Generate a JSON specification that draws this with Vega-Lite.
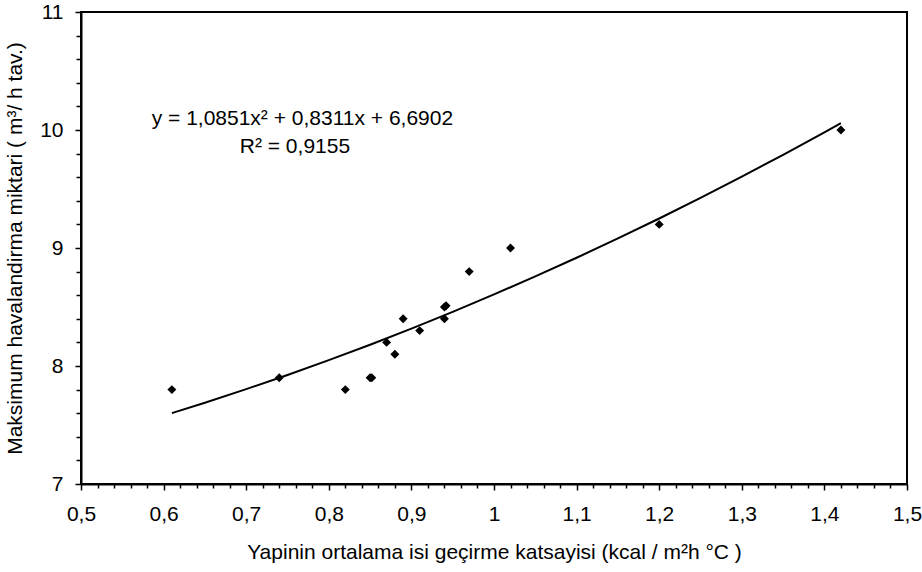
{
  "$schema": "https://vega.github.io/schema/vega-lite/v6.json",
  "autosize": {"type": "none"},
  "padding": {"left": 81, "top": 12, "right": 15, "bottom": 88},
  "width": 826,
  "height": 472,
  "background": "white",
  "config": {
    "font": "Liberation Sans",
    "view": {"stroke": "black", "strokeWidth": 2},
    "axis": {
      "grid": false,
      "domainColor": "black",
      "domainWidth": 2,
      "tickColor": "black",
      "tickWidth": 1.5,
      "labelColor": "black",
      "titleColor": "black",
      "labelFont": "Liberation Sans",
      "titleFont": "Liberation Sans",
      "labelFontSize": 21,
      "titleFontSize": 21,
      "titleFontWeight": "normal",
      "labelFlush": false,
      "labelOverlap": false
    },
    "axisX": {
      "labelPadding": 13,
      "labelBaseline": "top",
      "titleBaseline": "alphabetic",
      "titleY": 74
    },
    "axisY": {
      "labelPadding": 12,
      "titleBaseline": "alphabetic",
      "titleX": -60
    }
  },
  "datasets": {
    "points": [
      {"x": 0.61, "y": 7.8},
      {"x": 0.74, "y": 7.9},
      {"x": 0.82, "y": 7.8},
      {"x": 0.85, "y": 7.9},
      {"x": 0.852, "y": 7.9},
      {"x": 0.87, "y": 8.2},
      {"x": 0.88, "y": 8.1},
      {"x": 0.89, "y": 8.4},
      {"x": 0.91, "y": 8.3},
      {"x": 0.94, "y": 8.5},
      {"x": 0.942, "y": 8.51},
      {"x": 0.94, "y": 8.4},
      {"x": 0.97, "y": 8.8},
      {"x": 1.02, "y": 9.0},
      {"x": 1.2, "y": 9.2},
      {"x": 1.42, "y": 10.0}
    ],
    "trend": [
      {"x": 0.61, "y": 7.6009},
      {"x": 0.65, "y": 7.6889},
      {"x": 0.70, "y": 7.8037},
      {"x": 0.75, "y": 7.9239},
      {"x": 0.80, "y": 8.0495},
      {"x": 0.85, "y": 8.1806},
      {"x": 0.90, "y": 8.3171},
      {"x": 0.95, "y": 8.4591},
      {"x": 1.00, "y": 8.6064},
      {"x": 1.05, "y": 8.7592},
      {"x": 1.10, "y": 8.9174},
      {"x": 1.15, "y": 9.0810},
      {"x": 1.20, "y": 9.2501},
      {"x": 1.25, "y": 9.4246},
      {"x": 1.30, "y": 9.6045},
      {"x": 1.35, "y": 9.7898},
      {"x": 1.40, "y": 9.9805},
      {"x": 1.42, "y": 10.0584}
    ],
    "notes": [
      {"t1": "y = 1,0851x² + 0,8311x + 6,6902", "t2": "R² = 0,9155"}
    ]
  },
  "layer": [
    {
      "data": {"name": "trend"},
      "mark": {"type": "line", "color": "black", "strokeWidth": 2, "interpolate": "monotone"},
      "encoding": {
        "x": {
          "field": "x",
          "type": "quantitative",
          "title": "Yapinin ortalama isi geçirme katsayisi (kcal / m²h °C )",
          "scale": {"domain": [0.5, 1.5], "nice": false, "zero": false},
          "axis": {
            "values": [0.5, 0.52, 0.54, 0.56, 0.58, 0.6, 0.62, 0.64, 0.66, 0.68, 0.7, 0.72, 0.74, 0.76, 0.78, 0.8, 0.82, 0.84, 0.86, 0.88, 0.9, 0.92, 0.94, 0.96, 0.98, 1.0, 1.02, 1.04, 1.06, 1.08, 1.1, 1.12, 1.14, 1.16, 1.18, 1.2, 1.22, 1.24, 1.26, 1.28, 1.3, 1.32, 1.34, 1.36, 1.38, 1.4, 1.42, 1.44, 1.46, 1.48, 1.5],
            "labelExpr": "abs(datum.value*10 - round(datum.value*10)) < 0.001 ? replace(format(datum.value, '.1~f'), '.', ',') : ''",
            "tickSize": {"condition": {"test": "abs(datum.value*10 - round(datum.value*10)) < 0.001", "value": 6}, "value": 4}
          }
        },
        "y": {
          "field": "y",
          "type": "quantitative",
          "title": "Maksimum havalandirma miktari ( m³/ h tav.)",
          "scale": {"domain": [7, 11], "nice": false, "zero": false},
          "axis": {
            "values": [7, 7.2, 7.4, 7.6, 7.8, 8, 8.2, 8.4, 8.6, 8.8, 9, 9.2, 9.4, 9.6, 9.8, 10, 10.2, 10.4, 10.6, 10.8, 11],
            "labelExpr": "abs(datum.value - round(datum.value)) < 0.001 ? format(datum.value, 'd') : ''",
            "tickSize": {"condition": {"test": "abs(datum.value - round(datum.value)) < 0.001", "value": 6}, "value": 5}
          }
        }
      }
    },
    {
      "data": {"name": "points"},
      "mark": {"type": "point", "shape": "diamond", "filled": true, "color": "black", "opacity": 1, "size": 80},
      "encoding": {
        "x": {
          "field": "x",
          "type": "quantitative",
          "title": "Yapinin ortalama isi geçirme katsayisi (kcal / m²h °C )",
          "axis": {
            "values": [0.5, 0.52, 0.54, 0.56, 0.58, 0.6, 0.62, 0.64, 0.66, 0.68, 0.7, 0.72, 0.74, 0.76, 0.78, 0.8, 0.82, 0.84, 0.86, 0.88, 0.9, 0.92, 0.94, 0.96, 0.98, 1.0, 1.02, 1.04, 1.06, 1.08, 1.1, 1.12, 1.14, 1.16, 1.18, 1.2, 1.22, 1.24, 1.26, 1.28, 1.3, 1.32, 1.34, 1.36, 1.38, 1.4, 1.42, 1.44, 1.46, 1.48, 1.5],
            "labelExpr": "abs(datum.value*10 - round(datum.value*10)) < 0.001 ? replace(format(datum.value, '.1~f'), '.', ',') : ''",
            "tickSize": {"condition": {"test": "abs(datum.value*10 - round(datum.value*10)) < 0.001", "value": 6}, "value": 4}
          }
        },
        "y": {
          "field": "y",
          "type": "quantitative",
          "title": "Maksimum havalandirma miktari ( m³/ h tav.)",
          "axis": {
            "values": [7, 7.2, 7.4, 7.6, 7.8, 8, 8.2, 8.4, 8.6, 8.8, 9, 9.2, 9.4, 9.6, 9.8, 10, 10.2, 10.4, 10.6, 10.8, 11],
            "labelExpr": "abs(datum.value - round(datum.value)) < 0.001 ? format(datum.value, 'd') : ''",
            "tickSize": {"condition": {"test": "abs(datum.value - round(datum.value)) < 0.001", "value": 6}, "value": 5}
          }
        }
      }
    },
    {
      "data": {"name": "notes"},
      "mark": {"type": "text", "align": "left", "baseline": "alphabetic", "fontSize": 21, "font": "Liberation Sans", "color": "black"},
      "encoding": {
        "x": {
          "datum": 0.5856,
          "type": "quantitative",
          "title": "Yapinin ortalama isi geçirme katsayisi (kcal / m²h °C )",
          "axis": {
            "values": [0.5, 0.52, 0.54, 0.56, 0.58, 0.6, 0.62, 0.64, 0.66, 0.68, 0.7, 0.72, 0.74, 0.76, 0.78, 0.8, 0.82, 0.84, 0.86, 0.88, 0.9, 0.92, 0.94, 0.96, 0.98, 1.0, 1.02, 1.04, 1.06, 1.08, 1.1, 1.12, 1.14, 1.16, 1.18, 1.2, 1.22, 1.24, 1.26, 1.28, 1.3, 1.32, 1.34, 1.36, 1.38, 1.4, 1.42, 1.44, 1.46, 1.48, 1.5],
            "labelExpr": "abs(datum.value*10 - round(datum.value*10)) < 0.001 ? replace(format(datum.value, '.1~f'), '.', ',') : ''",
            "tickSize": {"condition": {"test": "abs(datum.value*10 - round(datum.value*10)) < 0.001", "value": 6}, "value": 4}
          }
        },
        "y": {
          "datum": 10.042,
          "type": "quantitative",
          "title": "Maksimum havalandirma miktari ( m³/ h tav.)",
          "axis": {
            "values": [7, 7.2, 7.4, 7.6, 7.8, 8, 8.2, 8.4, 8.6, 8.8, 9, 9.2, 9.4, 9.6, 9.8, 10, 10.2, 10.4, 10.6, 10.8, 11],
            "labelExpr": "abs(datum.value - round(datum.value)) < 0.001 ? format(datum.value, 'd') : ''",
            "tickSize": {"condition": {"test": "abs(datum.value - round(datum.value)) < 0.001", "value": 6}, "value": 5}
          }
        },
        "text": {"field": "t1", "type": "nominal"}
      }
    },
    {
      "data": {"name": "notes"},
      "mark": {"type": "text", "align": "center", "baseline": "alphabetic", "fontSize": 21, "font": "Liberation Sans", "color": "black"},
      "encoding": {
        "x": {
          "datum": 0.759,
          "type": "quantitative",
          "title": "Yapinin ortalama isi geçirme katsayisi (kcal / m²h °C )",
          "axis": {
            "values": [0.5, 0.52, 0.54, 0.56, 0.58, 0.6, 0.62, 0.64, 0.66, 0.68, 0.7, 0.72, 0.74, 0.76, 0.78, 0.8, 0.82, 0.84, 0.86, 0.88, 0.9, 0.92, 0.94, 0.96, 0.98, 1.0, 1.02, 1.04, 1.06, 1.08, 1.1, 1.12, 1.14, 1.16, 1.18, 1.2, 1.22, 1.24, 1.26, 1.28, 1.3, 1.32, 1.34, 1.36, 1.38, 1.4, 1.42, 1.44, 1.46, 1.48, 1.5],
            "labelExpr": "abs(datum.value*10 - round(datum.value*10)) < 0.001 ? replace(format(datum.value, '.1~f'), '.', ',') : ''",
            "tickSize": {"condition": {"test": "abs(datum.value*10 - round(datum.value*10)) < 0.001", "value": 6}, "value": 4}
          }
        },
        "y": {
          "datum": 9.8025,
          "type": "quantitative",
          "title": "Maksimum havalandirma miktari ( m³/ h tav.)",
          "axis": {
            "values": [7, 7.2, 7.4, 7.6, 7.8, 8, 8.2, 8.4, 8.6, 8.8, 9, 9.2, 9.4, 9.6, 9.8, 10, 10.2, 10.4, 10.6, 10.8, 11],
            "labelExpr": "abs(datum.value - round(datum.value)) < 0.001 ? format(datum.value, 'd') : ''",
            "tickSize": {"condition": {"test": "abs(datum.value - round(datum.value)) < 0.001", "value": 6}, "value": 5}
          }
        },
        "text": {"field": "t2", "type": "nominal"}
      }
    }
  ]
}
